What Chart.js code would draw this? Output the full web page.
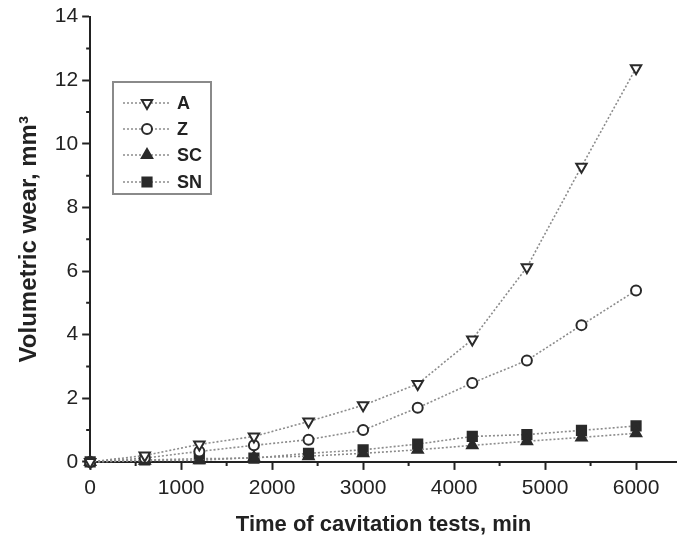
<!DOCTYPE html>
<html lang="en">
<head>
    <meta charset="UTF-8">
    <title>Volumetric wear vs time of cavitation tests</title>
    <script src="https://cdn.jsdelivr.net/npm/chart.js"></script>
    <style>
        html, body {
            margin: 0;
            padding: 0;
            background: #ffffff;
        }
        .chart-container {
            width: 677px;
            height: 540px;
        }
    </style>
</head>
<body>
    <div class="chart-container">
        <canvas id="chartCanvas"></canvas>
    </div>

    <script>
        // time of cavitation tests, min
        const times = [0, 600, 1200, 1800, 2400, 3000, 3600, 4200, 4800, 5400, 6000];
        // volumetric wear, mm3
        const wearA  = [0, 0.2, 0.55, 0.8, 1.27, 1.78, 2.45, 3.85, 6.12, 9.28, 12.38];
        const wearZ  = [0, 0.12, 0.33, 0.52, 0.7, 1.0, 1.7, 2.48, 3.19, 4.3, 5.39];
        const wearSC = [0, 0.04, 0.05, 0.14, 0.18, 0.27, 0.38, 0.52, 0.65, 0.77, 0.9];
        const wearSN = [0, 0.06, 0.1, 0.12, 0.27, 0.38, 0.56, 0.8, 0.86, 0.99, 1.13];

        const xTicks = [0, 1000, 2000, 3000, 4000, 5000, 6000];
        const xMinor = [500, 1500, 2500, 3500, 4500, 5500];
        const yTicks = [0, 2, 4, 6, 8, 10, 12, 14];
        const yMinor = [1, 3, 5, 7, 9, 11, 13];

        const lineColor = '#8c8c8c';
        const markColor = '#2a2a2a';
        const fontFamily = '"Liberation Sans", Arial, sans-serif';

        function series(label, values, style, rotation, radius, filled) {
            return {
                label: label,
                data: times.map((t, i) => ({ x: t, y: values[i] })),
                borderColor: lineColor,
                borderWidth: 1.6,
                borderDash: [2, 2],
                pointStyle: style,
                rotation: rotation,
                pointRadius: radius,
                pointBorderWidth: 2,
                pointBorderColor: markColor,
                pointBackgroundColor: filled ? markColor : '#ffffff',
                fill: false,
                tension: 0,
                clip: false
            };
        }

        const datasets = [
            series('A', wearA, 'triangle', 180, 6, false),
            series('Z', wearZ, 'circle', 0, 5, false),
            series('SC', wearSC, 'triangle', 0, 6, true),
            series('SN', wearSN, 'rect', 0, 6.5, true)
        ];

        // small minor ticks between the labelled ones
        const minorTicks = {
            id: 'minorTicks',
            afterDraw(chart) {
                const ctx = chart.ctx;
                const xs = chart.scales.x, ys = chart.scales.y;
                ctx.save();
                ctx.strokeStyle = '#222';
                ctx.lineWidth = 2;
                ctx.beginPath();
                xMinor.forEach(v => {
                    const px = xs.getPixelForValue(v);
                    ctx.moveTo(px, ys.bottom);
                    ctx.lineTo(px, ys.bottom + 4);
                });
                yMinor.forEach(v => {
                    const py = ys.getPixelForValue(v);
                    ctx.moveTo(xs.left, py);
                    ctx.lineTo(xs.left - 4, py);
                });
                ctx.stroke();
                ctx.restore();
            }
        };

        // legend box inside the plot, line + marker like the original
        const boxLegend = {
            id: 'boxLegend',
            afterDraw(chart) {
                const ctx = chart.ctx;
                const bx = 113, by = 82, bw = 98, bh = 112;
                const rows = [103, 129, 155, 182];
                ctx.save();
                ctx.strokeStyle = '#8a8a8a';
                ctx.lineWidth = 2;
                ctx.strokeRect(bx, by, bw, bh);
                chart.data.datasets.forEach((ds, i) => {
                    const y = rows[i];
                    ctx.strokeStyle = lineColor;
                    ctx.lineWidth = 1.4;
                    ctx.setLineDash([2, 2]);
                    ctx.beginPath();
                    ctx.moveTo(123, y);
                    ctx.lineTo(170, y);
                    ctx.stroke();
                    ctx.setLineDash([]);
                    ctx.strokeStyle = ds.pointBorderColor;
                    ctx.fillStyle = ds.pointBackgroundColor;
                    ctx.lineWidth = ds.pointBorderWidth;
                    Chart.helpers.drawPoint(ctx, {
                        pointStyle: ds.pointStyle,
                        rotation: ds.rotation,
                        radius: ds.pointRadius,
                        borderWidth: ds.pointBorderWidth
                    }, 147, y);
                    ctx.fillStyle = '#222';
                    ctx.font = 'bold 18px ' + fontFamily;
                    ctx.textBaseline = 'middle';
                    ctx.fillText(ds.label, 177, y + 1);
                });
                ctx.restore();
            }
        };

        new Chart(document.getElementById('chartCanvas'), {
            type: 'line',
            data: { datasets: datasets },
            plugins: [minorTicks, boxLegend],
            options: {
                responsive: true,
                maintainAspectRatio: false,
                animation: false,
                layout: {
                    autoPadding: false,
                    padding: { left: 15, right: 0, top: 14, bottom: 1.5 }
                },
                plugins: {
                    legend: { display: false },
                    tooltip: { enabled: false }
                },
                scales: {
                    x: {
                        type: 'linear',
                        min: 0,
                        max: 6450,
                        afterBuildTicks: s => { s.ticks = xTicks.map(v => ({ value: v })); },
                        afterFit: s => { s.paddingRight = 0; },
                        grid: {
                            drawOnChartArea: false,
                            tickLength: 8,
                            tickWidth: 2,
                            tickColor: '#222'
                        },
                        border: { color: '#222', width: 2 },
                        ticks: {
                            color: '#222',
                            padding: 6,
                            maxRotation: 0,
                            callback: v => String(v),
                            font: { family: fontFamily, size: 21 }
                        },
                        title: {
                            display: true,
                            text: 'Time of cavitation tests, min',
                            color: '#222',
                            padding: { top: 5, bottom: 0 },
                            font: { family: fontFamily, size: 22, weight: 'bold' }
                        }
                    },
                    y: {
                        min: 0,
                        max: 14,
                        afterBuildTicks: s => { s.ticks = yTicks.map(v => ({ value: v })); },
                        grid: {
                            drawOnChartArea: false,
                            tickLength: 8,
                            tickWidth: 2,
                            tickColor: '#222'
                        },
                        border: { color: '#222', width: 2 },
                        ticks: {
                            color: '#222',
                            padding: 4,
                            callback: v => String(v),
                            font: { family: fontFamily, size: 21 }
                        },
                        title: {
                            display: true,
                            text: 'Volumetric wear, mm³',
                            color: '#222',
                            padding: { top: 0, bottom: 7 },
                            font: { family: fontFamily, size: 24, weight: 'bold' }
                        }
                    }
                }
            }
        });
    </script>
</body>
</html>
